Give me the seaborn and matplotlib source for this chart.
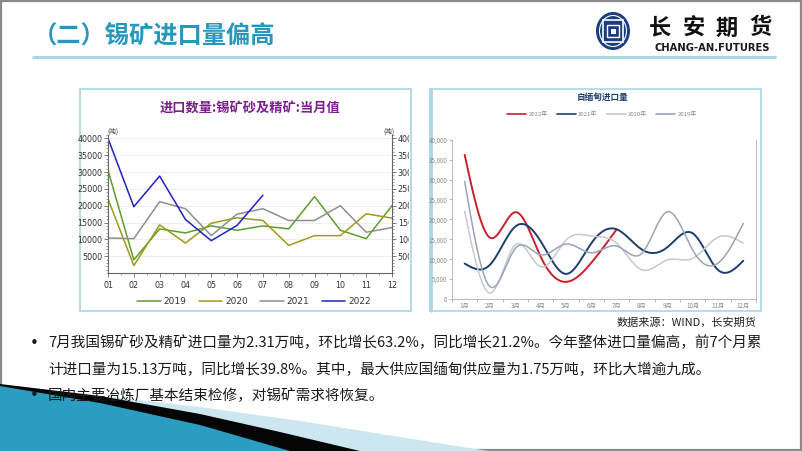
import numpy as np
import pandas as pd
import matplotlib
matplotlib.use('Agg')
import matplotlib.pyplot as plt
import seaborn as sns
from matplotlib.patches import Rectangle, Polygon, Ellipse
from matplotlib.ticker import MultipleLocator, FixedLocator, StrMethodFormatter
from matplotlib.transforms import Bbox, TransformedBbox

# ---------------- data ----------------
months_num = ['01', '02', '03', '04', '05', '06', '07', '08', '09', '10', '11', '12']
imp_2019 = [30500, 3900, 13100, 11900, 14000, 12700, 14000, 13100, 22700, 12700, 10200, 20000]
imp_2020 = [22000, 2200, 14300, 8900, 14800, 16400, 15600, 8200, 11100, 11100, 17600, 16300]
imp_2021 = [10400, 10200, 21200, 19100, 11100, 17500, 19100, 15600, 15600, 20000, 12100, 13500]
imp_2022 = [40000, 19700, 28800, 15900, 9600, 14150, 23100]

mm_months = ['1月', '2月', '3月', '4月', '5月', '6月', '7月', '8月', '9月', '10月', '11月', '12月']
mm_2022 = [36200, 15400, 21800, 10600, 4300, 9100, 17500]
mm_2021 = [8900, 8600, 18200, 14500, 6300, 14000, 17500, 12400, 13000, 16500, 7300, 9600]
mm_2020 = [22000, 1500, 13600, 8100, 14800, 15800, 14000, 7300, 9800, 10200, 15500, 14000]
mm_2019 = [29500, 3100, 12700, 11100, 13800, 11600, 13300, 11500, 21900, 12300, 9000, 19000]

W, H = 802, 451
sns.set_theme(style='white')
plt.rcParams['font.family'] = ['Noto Sans CJK SC', 'DejaVu Sans']
plt.rcParams['axes.unicode_minus'] = False

fig = plt.figure(figsize=(W / 100, H / 100), dpi=100)
fig.patch.set_facecolor('white')


def fx(x):
    return x / W


def fy(y):
    return 1 - y / H


def box(x0, y0, x1, y1):
    return [fx(x0), fy(y1), (x1 - x0) / W, (y1 - y0) / H]


# ---------------- background layer ----------------
bg = fig.add_axes([0, 0, 1, 1], zorder=-5)
bg.set_xlim(0, W)
bg.set_ylim(H, 0)
bg.axis('off')

# slide border
bg.add_patch(Rectangle((0.8, 0.8), W - 1.6, H - 1.6, fill=False, ec='#8a8a8a', lw=1.6))
# title underline
bg.plot([32, 776], [57, 57], color='#a7dadf', lw=2.2, solid_capstyle='butt')
# chart frames
bg.add_patch(Rectangle((80, 89), 331, 222, fill=False, ec='#b5dde9', lw=1.4))
bg.add_patch(Rectangle((430, 89), 331, 222, fill=False, ec='#b5dde9', lw=1.4))
bg.plot([430.5, 430.5], [89, 311], color='#a9d6e6', lw=2.0)

# bottom-left decoration
bg.add_patch(Polygon([(15, 386), (200, 407), (300, 421), (400, 437), (488, 451), (0, 451)],
                     closed=True, fc='#cce7f0', ec='none'))
bg.add_patch(Polygon([(0, 384), (100, 396), (200, 414), (280, 432), (360, 451), (0, 451)],
                     closed=True, fc='#050505', ec='none'))
bg.add_patch(Polygon([(0, 386), (100, 403), (200, 425), (290, 451), (0, 451)],
                     closed=True, fc='#2b9dc1', ec='none'))

# logo icon
navy = '#1b3f7c'
bg.add_patch(Ellipse((613, 31), 34, 38, fc=navy, ec='none'))
bg.add_patch(Ellipse((613, 31), 27, 31, fc='none', ec='white', lw=0.8))
bg.add_patch(Rectangle((603, 20), 20, 22, fc='none', ec='white', lw=1.2))
bg.add_patch(Rectangle((607, 25), 12, 12, fc='none', ec='white', lw=1.0))
bg.add_patch(Rectangle((610.5, 28.5), 5, 5, fc='white', ec='none'))

# ---------------- header texts ----------------
fig.text(fx(33), fy(37), '（二）锡矿进口量偏高', fontsize=17.5, fontweight='bold',
         color='#2698be', ha='left', va='center')
for ch, cx in zip('长安期货', [660, 694, 727, 760]):
    fig.text(fx(cx), fy(28), ch, fontsize=16, fontweight='bold', color='#111111',
             ha='center', va='center')
fig.text(fx(712), fy(48), 'CHANG-AN.FUTURES', fontsize=7.2, fontweight='bold',
         color='#1a1a1a', ha='center', va='center', family='DejaVu Sans')

# ---------------- left chart ----------------
ax1 = fig.add_axes(box(108, 135, 392, 273))
rows = []
for yr, vals in [('2019', imp_2019), ('2020', imp_2020), ('2021', imp_2021), ('2022', imp_2022)]:
    for i, v in enumerate(vals):
        rows.append({'m': i, 'v': v, 'year': yr})
df1 = pd.DataFrame(rows)
pal1 = {'2019': '#5c9e2c', '2020': '#a09a18', '2021': '#8e8e8e', '2022': '#2222c4'}
sns.lineplot(data=df1, x='m', y='v', hue='year', palette=pal1, ax=ax1, lw=1.1,
             estimator=None, sort=False, legend=True)
ax1.set_xlim(0, 11)
ax1.set_ylim(0, 41000)
ax1.set_xlabel('')
ax1.set_ylabel('')
ax1.set_xticks(range(12))
ax1.set_xticklabels(months_num)
ax1.xaxis.set_minor_locator(MultipleLocator(0.5))
ax1.yaxis.set_major_locator(FixedLocator([5000, 10000, 15000, 20000, 25000, 30000, 35000, 40000]))
ax1.yaxis.set_major_formatter(StrMethodFormatter('{x:.0f}'))
ax1.yaxis.set_minor_locator(MultipleLocator(1000))
ax1.grid(axis='y', which='major', color='#ececec', lw=0.6)
for s in ['left', 'right', 'bottom']:
    ax1.spines[s].set_visible(True)
    ax1.spines[s].set_color('#666666')
    ax1.spines[s].set_linewidth(0.8)
ax1.spines['top'].set_visible(False)
ax1.tick_params(axis='y', which='major', left=True, right=True, labelleft=True, labelright=True,
                length=3, width=0.6, color='#666666', labelsize=5.8, labelcolor='#333333', pad=1.2)
ax1.tick_params(axis='y', which='minor', left=True, right=True, length=1.6, width=0.5, color='#777777')
ax1.tick_params(axis='x', which='major', bottom=True, length=3, width=0.6, color='#666666',
                labelsize=5.8, labelcolor='#333333', pad=2.5)
ax1.tick_params(axis='x', which='minor', bottom=True, length=1.6, width=0.5, color='#777777')
for t in ax1.get_xticklabels() + ax1.get_yticklabels():
    t.set_family('DejaVu Sans')
clipbb = TransformedBbox(Bbox.from_extents(0, 0, fx(409), 1), fig.transFigure)
for t in ax1.yaxis.get_major_ticks():
    t.label2.set_family('DejaVu Sans')
    t.label2.set_clip_box(clipbb)
    t.label2.set_clip_on(True)
leg1 = ax1.legend(loc='center', bbox_to_anchor=(fx(254), fy(302)), bbox_transform=fig.transFigure,
                  ncol=4, frameon=False, fontsize=6.5, handlelength=2.6, columnspacing=1.4,
                  handletextpad=0.3)
for t in leg1.get_texts():
    t.set_family('DejaVu Sans')
    t.set_color('#333333')
fig.text(fx(107), fy(132), '(吨)', fontsize=4.8, color='#333333', ha='left', va='center')
fig.text(fx(383), fy(132), '(吨)', fontsize=4.8, color='#333333', ha='left', va='center')
fig.text(fx(250), fy(109), '进口数量:锡矿砂及精矿:当月值', fontsize=9.5, fontweight='bold',
         color='#7b1f8e', ha='center', va='center')

# ---------------- right chart ----------------
def natural_spline(x, y, xs):
    x = np.asarray(x, float)
    y = np.asarray(y, float)
    n = len(x)
    h = np.diff(x)
    A = np.zeros((n, n))
    r = np.zeros(n)
    A[0, 0] = 1
    A[-1, -1] = 1
    for i in range(1, n - 1):
        A[i, i - 1] = h[i - 1]
        A[i, i] = 2 * (h[i - 1] + h[i])
        A[i, i + 1] = h[i]
        r[i] = 3 * ((y[i + 1] - y[i]) / h[i] - (y[i] - y[i - 1]) / h[i - 1])
    c = np.linalg.solve(A, r)
    b = (y[1:] - y[:-1]) / h - h * (2 * c[:-1] + c[1:]) / 3
    d = (c[1:] - c[:-1]) / (3 * h)
    idx = np.clip(np.searchsorted(x, xs, side='right') - 1, 0, n - 2)
    dx = xs - x[idx]
    return y[idx] + b[idx] * dx + c[idx] * dx ** 2 + d[idx] * dx ** 3


ax2 = fig.add_axes(box(452, 139.7, 756, 299))
rows = []
for yr, vals in [('2022年', mm_2022), ('2021年', mm_2021), ('2020年', mm_2020), ('2019年', mm_2019)]:
    xk = np.arange(len(vals))
    xs = np.linspace(0, len(vals) - 1, 300)
    ys = natural_spline(xk, vals, xs)
    for a, b_ in zip(xs, ys):
        rows.append({'m': a, 'v': b_, 'year': yr})
df2 = pd.DataFrame(rows)
pal2 = {'2022年': '#c8202f', '2021年': '#1f3e6e', '2020年': '#c6c9cd', '2019年': '#9aa4b7'}
sns.lineplot(data=df2, x='m', y='v', hue='year', palette=pal2, ax=ax2, estimator=None,
             sort=False, legend=True, lw=1.2)
for ln, lw in zip(ax2.get_lines(), [1.4, 1.4, 1.1, 1.1]):
    ln.set_linewidth(lw)
ax2.set_xlim(-0.5, 11.5)
ax2.set_ylim(0, 40000)
ax2.set_xlabel('')
ax2.set_ylabel('')
ax2.set_xticks(range(12))
ax2.set_xticklabels(mm_months)
ax2.xaxis.set_minor_locator(FixedLocator(np.arange(-0.5, 12, 1)))
ax2.yaxis.set_major_locator(MultipleLocator(5000))
ax2.yaxis.set_major_formatter(StrMethodFormatter('{x:,.0f}'))
for s in ['left', 'bottom', 'right']:
    ax2.spines[s].set_visible(True)
    ax2.spines[s].set_color('#b9b9b9')
    ax2.spines[s].set_linewidth(0.7)
ax2.spines['top'].set_visible(False)
ax2.tick_params(axis='y', which='major', left=True, length=2, width=0.5, color='#999999',
                labelsize=4.5, labelcolor='#8a8a8a', pad=1.5)
ax2.tick_params(axis='x', which='major', bottom=False, length=0, labelsize=4.5,
                labelcolor='#8a8a8a', pad=2)
ax2.tick_params(axis='x', which='minor', bottom=True, length=2, width=0.5, color='#999999')
leg2 = ax2.legend(loc='center', bbox_to_anchor=(fx(602), fy(114.5)), bbox_transform=fig.transFigure,
                  ncol=4, frameon=False, fontsize=4.3, handlelength=3.2, columnspacing=1.5,
                  handletextpad=0.4)
for t in leg2.get_texts():
    t.set_color('#8a8a8a')
fig.text(fx(603), fy(97), '自缅甸进口量', fontsize=6.2, fontweight='bold', color='#1f3e6e',
         ha='center', va='center')

# ---------------- body text ----------------
fig.text(fx(756), fy(322), '数据来源：WIND，长安期货', fontsize=8, color='#222222',
         ha='right', va='center')
body = '#1a1a1a'
fs = 10.5
fig.text(fx(30), fy(343), '•', fontsize=11, color=body, ha='left', va='center', family='DejaVu Sans')
fig.text(fx(48), fy(343), '7月我国锡矿砂及精矿进口量为2.31万吨，环比增长63.2%，同比增长21.2%。今年整体进口量偏高，前7个月累',
         fontsize=fs, color=body, ha='left', va='center')
fig.text(fx(48), fy(370), '计进口量为15.13万吨，同比增长39.8%。其中，最大供应国缅甸供应量为1.75万吨，环比大增逾九成。',
         fontsize=fs, color=body, ha='left', va='center')
fig.text(fx(30), fy(396), '•', fontsize=11, color=body, ha='left', va='center', family='DejaVu Sans')
fig.text(fx(48), fy(396), '国内主要冶炼厂基本结束检修，对锡矿需求将恢复。',
         fontsize=fs, color=body, ha='left', va='center')

fig.savefig('out.png', dpi=100, facecolor='white')
